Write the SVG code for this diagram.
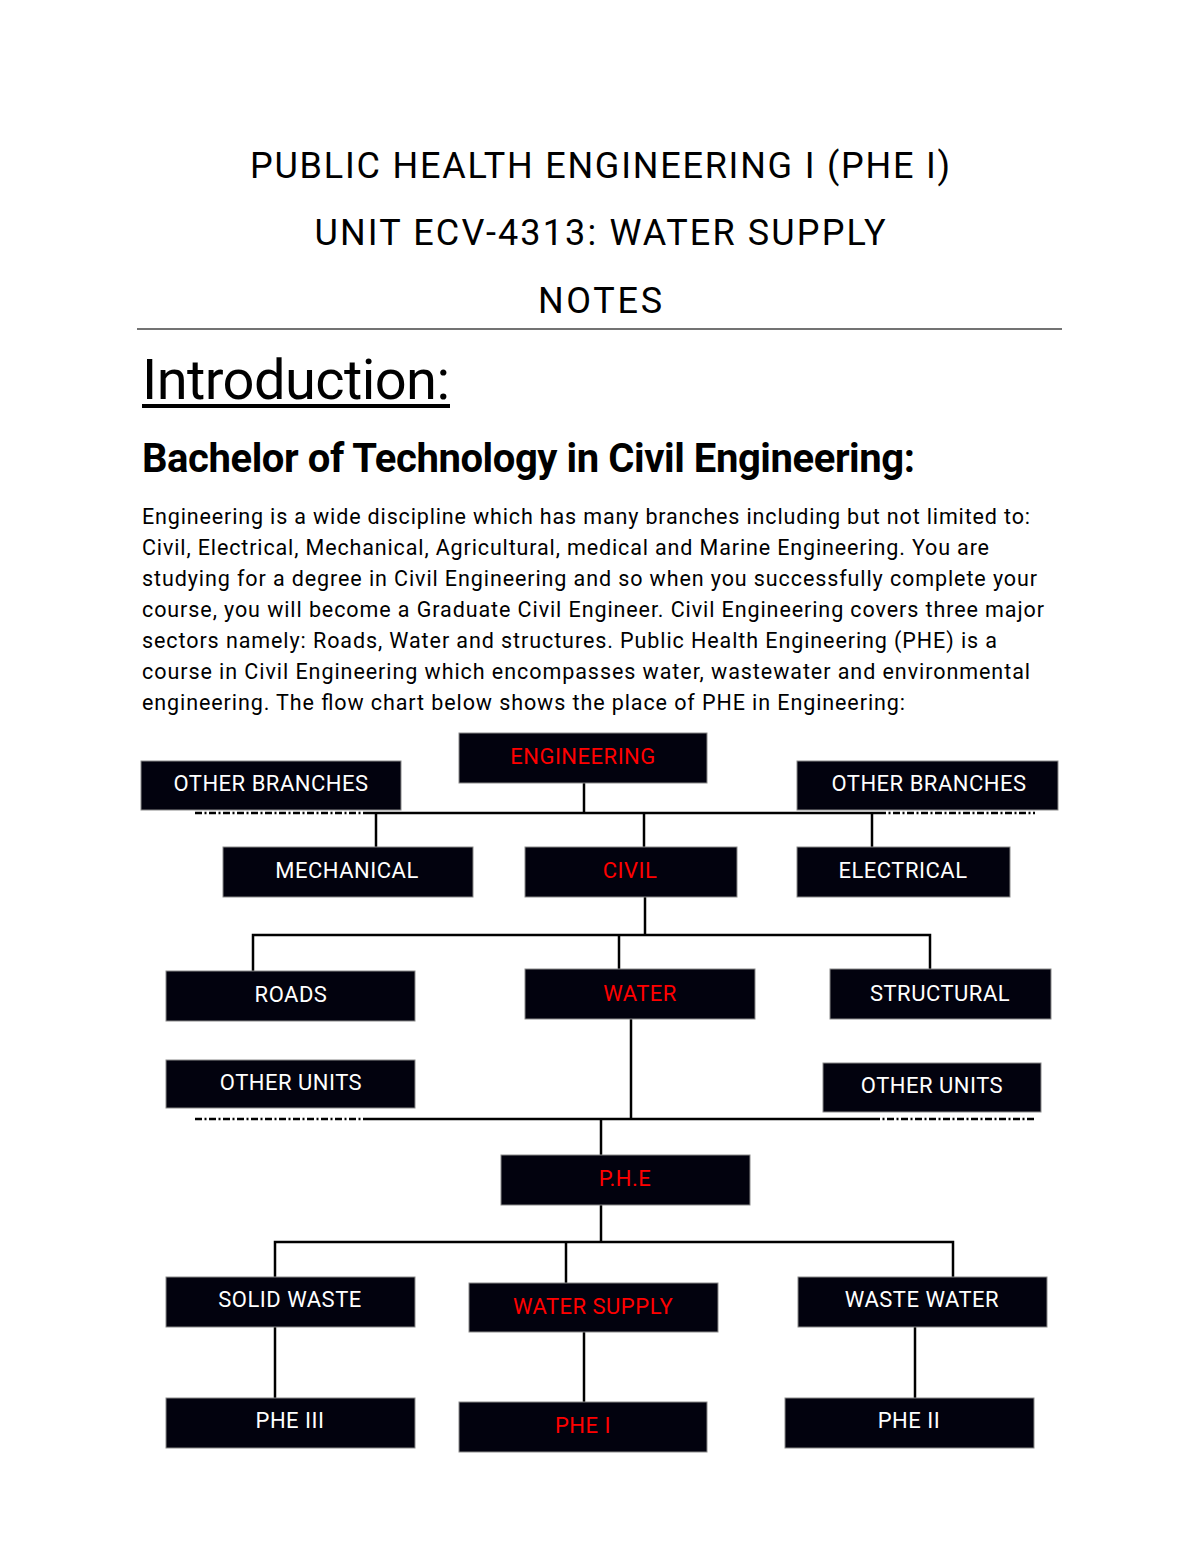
<svg xmlns="http://www.w3.org/2000/svg" width="1200" height="1553" viewBox="0 0 1200 1553">
<style>
.title{font-family:Roboto,"Liberation Sans",sans-serif;font-size:36px;fill:#000;text-anchor:middle}
.intro{font-family:Roboto,"Liberation Sans",sans-serif;font-size:56px;fill:#000}
.h2{font-family:Roboto,"Liberation Sans",sans-serif;font-size:40px;font-weight:bold;fill:#000}
.p{font-family:Roboto,"Liberation Sans",sans-serif;font-size:21.5px;fill:#000}
.box{fill:#02020e;stroke:#8a8a8a;stroke-width:1}
.lbl{font-family:Roboto,"Liberation Sans",sans-serif;font-size:22px;fill:#fff;text-anchor:middle;letter-spacing:0.5px}
.red{fill:#ff0000}
.ln{stroke:#000;stroke-width:2.5;fill:none}
.dash{stroke:#000;stroke-width:2.5;fill:none;stroke-dasharray:7 2.5 2 2.5}
</style>
<rect width="1200" height="1553" fill="#fff"/>
<g id="header">
<text class="title" x="600" y="178" textLength="700">PUBLIC HEALTH ENGINEERING I (PHE I)</text>
<text class="title" x="600" y="245" textLength="571">UNIT ECV-4313: WATER SUPPLY</text>
<text class="title" x="600" y="313" textLength="124">NOTES</text>
<line x1="137" y1="329" x2="1062" y2="329" stroke="#444" stroke-width="1.5"/>
<text class="intro" x="142" y="399" textLength="308">Introduction:</text>
<rect x="142" y="404" width="308" height="4" fill="#000"/>
<text class="h2" x="142" y="472" textLength="773">Bachelor of Technology in Civil Engineering:</text>
<text class="p" x="142" y="524" textLength="888">Engineering is a wide discipline which has many branches including but not limited to:</text>
<text class="p" x="142" y="555" textLength="847">Civil, Electrical, Mechanical, Agricultural, medical and Marine Engineering. You are</text>
<text class="p" x="142" y="586" textLength="895">studying for a degree in Civil Engineering and so when you successfully complete your</text>
<text class="p" x="142" y="617" textLength="902">course, you will become a Graduate Civil Engineer. Civil Engineering covers three major</text>
<text class="p" x="142" y="648" textLength="855">sectors namely: Roads, Water and structures. Public Health Engineering (PHE) is a</text>
<text class="p" x="142" y="679" textLength="888">course in Civil Engineering which encompasses water, wastewater and environmental</text>
<text class="p" x="142" y="710" textLength="763">engineering. The flow chart below shows the place of PHE in Engineering:</text>
</g>
<g id="connectors">
<line class="ln" x1="584" y1="783" x2="584" y2="813"/>
<line class="ln" x1="367" y1="813" x2="879" y2="813"/>
<line class="dash" x1="195" y1="813" x2="367" y2="813"/>
<line class="dash" x1="879" y1="813" x2="1035" y2="813"/>
<line class="ln" x1="376" y1="813" x2="376" y2="847"/>
<line class="ln" x1="644" y1="813" x2="644" y2="847"/>
<line class="ln" x1="872" y1="813" x2="872" y2="847"/>
<line class="ln" x1="645" y1="897" x2="645" y2="935"/>
<polyline class="ln" points="253,971 253,935 930,935 930,969"/>
<line class="ln" x1="619" y1="935" x2="619" y2="969"/>
<line class="ln" x1="631" y1="1019" x2="631" y2="1119"/>
<line class="ln" x1="367" y1="1119" x2="873" y2="1119"/>
<line class="dash" x1="195" y1="1119" x2="367" y2="1119"/>
<line class="dash" x1="873" y1="1119" x2="1035" y2="1119"/>
<line class="ln" x1="601" y1="1119" x2="601" y2="1155"/>
<line class="ln" x1="601" y1="1205" x2="601" y2="1242"/>
<polyline class="ln" points="275,1277 275,1242 953,1242 953,1277"/>
<line class="ln" x1="566" y1="1242" x2="566" y2="1283"/>
<line class="ln" x1="275" y1="1327" x2="275" y2="1398"/>
<line class="ln" x1="584" y1="1332" x2="584" y2="1402"/>
<line class="ln" x1="915" y1="1327" x2="915" y2="1398"/>
</g>
<g id="engineering"><rect class="box" x="459" y="733" width="248" height="50"/><text class="lbl red" x="583" y="764">ENGINEERING</text></g>
<g id="other-branches-left"><rect class="box" x="141" y="761" width="260" height="49"/><text class="lbl" x="271" y="791">OTHER BRANCHES</text></g>
<g id="other-branches-right"><rect class="box" x="797" y="761" width="261" height="49"/><text class="lbl" x="929" y="791">OTHER BRANCHES</text></g>
<g id="mechanical"><rect class="box" x="223" y="847" width="250" height="50"/><text class="lbl" x="347" y="878">MECHANICAL</text></g>
<g id="civil"><rect class="box" x="525" y="847" width="212" height="50"/><text class="lbl red" x="630" y="878">CIVIL</text></g>
<g id="electrical"><rect class="box" x="797" y="847" width="213" height="50"/><text class="lbl" x="903" y="878">ELECTRICAL</text></g>
<g id="roads"><rect class="box" x="166" y="971" width="249" height="50"/><text class="lbl" x="291" y="1002">ROADS</text></g>
<g id="water"><rect class="box" x="525" y="969" width="230" height="50"/><text class="lbl red" x="640" y="1001">WATER</text></g>
<g id="structural"><rect class="box" x="830" y="969" width="221" height="50"/><text class="lbl" x="940" y="1001">STRUCTURAL</text></g>
<g id="other-units-left"><rect class="box" x="166" y="1060" width="249" height="48"/><text class="lbl" x="291" y="1090">OTHER UNITS</text></g>
<g id="other-units-right"><rect class="box" x="823" y="1063" width="218" height="49"/><text class="lbl" x="932" y="1093">OTHER UNITS</text></g>
<g id="phe"><rect class="box" x="501" y="1155" width="249" height="50"/><text class="lbl red" x="625" y="1186">P.H.E</text></g>
<g id="solid-waste"><rect class="box" x="166" y="1277" width="249" height="50"/><text class="lbl" x="290" y="1307">SOLID WASTE</text></g>
<g id="water-supply"><rect class="box" x="469" y="1283" width="249" height="49"/><text class="lbl red" x="593" y="1314">WATER SUPPLY</text></g>
<g id="waste-water"><rect class="box" x="798" y="1277" width="249" height="50"/><text class="lbl" x="922" y="1307">WASTE WATER</text></g>
<g id="phe-iii"><rect class="box" x="166" y="1398" width="249" height="50"/><text class="lbl" x="290" y="1428">PHE III</text></g>
<g id="phe-i"><rect class="box" x="459" y="1402" width="248" height="50"/><text class="lbl red" x="583" y="1433">PHE I</text></g>
<g id="phe-ii"><rect class="box" x="785" y="1398" width="249" height="50"/><text class="lbl" x="909" y="1428">PHE II</text></g>
</svg>
